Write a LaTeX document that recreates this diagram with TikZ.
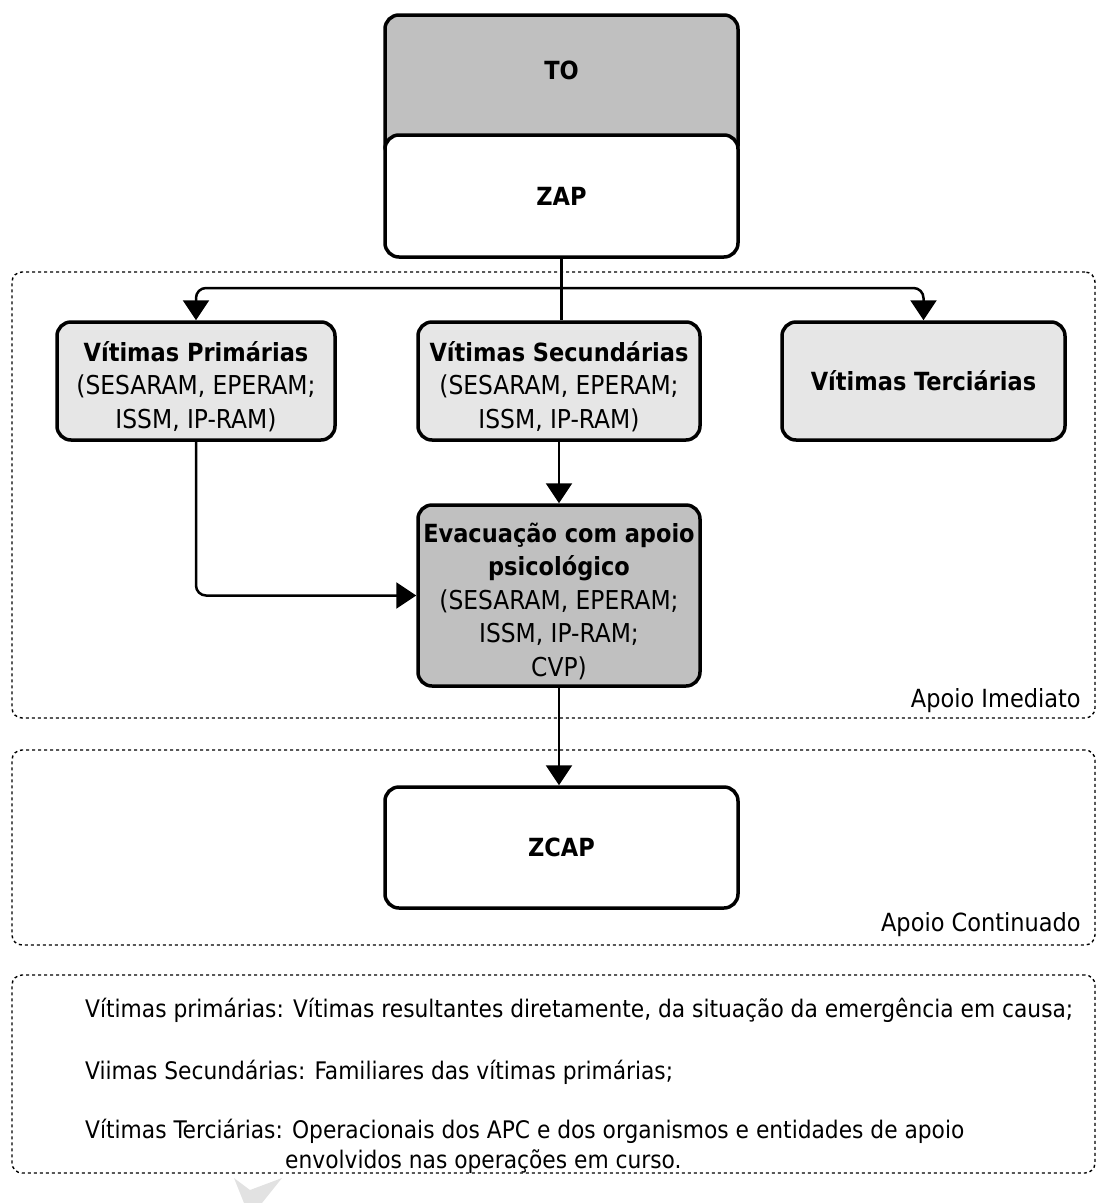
\documentclass[tikz,border=0pt]{standalone}
\usepackage{fontspec}
\setmainfont{DejaVu Sans Condensed}
\usetikzlibrary{arrows.meta}
\definecolor{gdark}{HTML}{C0C0C0}
\definecolor{glight}{HTML}{E6E6E6}
\definecolor{wmark}{HTML}{E2E2E2}
\newcommand{\topstrut}{\rule{0pt}{31pt}}
\tikzset{
  boxbase/.style={draw, line width=3.5pt, rounded corners=14pt, align=center,
    inner sep=0pt, font=\fontsize{26}{33.5}\selectfont},
  bigbox/.style={boxbase, minimum width=353pt},
  midbox/.style={boxbase, minimum width=280pt, minimum height=118pt, fill=glight},
  conn/.style={line width=2.5pt, rounded corners=10pt},
  arr/.style={conn, -{Triangle[width=26pt,length=20pt]}},
  zone/.style={draw, line width=1.4pt, dash pattern=on 3pt off 3pt, rounded corners=10pt,
    minimum width=1083pt, inner sep=0pt},
  zlabel/.style={anchor=east, font=\fontsize{25}{29}\selectfont, inner sep=0pt},
  legend/.style={anchor=west, font=\fontsize{24.2}{28}\selectfont, inner sep=0pt}
}
\begin{document}
\begin{tikzpicture}[x=1pt,y=-1pt]
\useasboundingbox (0,0) rectangle (1097,1203);
% zones
\node[zone, minimum height=446pt] (imm) at (553.5,495) {};
\node[zone, minimum height=195pt] (cont) at (553.5,847.5) {};
\node[zone, minimum height=198pt] (leg) at (553.5,1074) {};
\node[zlabel] (limm) at (1081,701) {Apoio Imediato};
\node[zlabel] (lcont) at (1081,925) {Apoio Continuado};
% top boxes
\node[bigbox, fill=gdark, minimum height=145pt,
  label={[yshift=17.5pt, font=\fontsize{25}{33}\selectfont\bfseries]center:TO}] (to) at (561.5,87.5) {};
\node[bigbox, fill=white, minimum height=122pt, font=\fontsize{25}{33}\selectfont\bfseries] (zap) at (561.5,196) {ZAP};
% middle boxes
\node[midbox, minimum width=278pt] (prim) at (196,381) {\topstrut\textbf{\fontsize{25}{33}\selectfont Vítimas Primárias}\\(SESARAM, EPERAM;\\ISSM, IP-RAM)};
\node[midbox, minimum width=282pt] (sec) at (559,381) {\topstrut\textbf{\fontsize{25}{33}\selectfont Vítimas Secundárias}\\(SESARAM, EPERAM;\\ISSM, IP-RAM)};
\node[midbox, minimum width=283pt, font=\fontsize{25}{33}\selectfont\bfseries] (ter) at (923.5,381) {Vítimas Terciárias};
\node[boxbase, fill=gdark, minimum width=282pt, minimum height=181pt] (evac) at (559,595.5)
  {\topstrut\textbf{\fontsize{25}{33}\selectfont Evacuação com apoio}\\\textbf{\fontsize{25}{33}\selectfont psicológico}\\(SESARAM, EPERAM;\\ISSM, IP-RAM;\\CVP)};
\node[bigbox, fill=white, minimum height=121pt, font=\fontsize{25}{33}\selectfont\bfseries] (zcap) at (561.5,847.5) {ZCAP};
% connectors
\coordinate (br) at (561,288);
\draw[conn] (zap.south) -- (zap.south |- sec.north);
\draw[arr] (br) -| (prim.north);
\draw[arr] (br) -| (ter.north);
\draw[arr] (sec.south) -- (evac.north);
\draw[arr] (prim.south) |- (evac.west);
\draw[arr] (evac.south) -- (evac.south |- zcap.north);
% legend
\node[legend] (l1) at (85,1010) {Vítimas primárias: Vítimas resultantes diretamente, da situação da emergência em causa;};
\node[legend] (l2) at (85,1072) {Viimas Secundárias: Familiares das vítimas primárias;};
\node[legend] (l3) at (85,1131) {Vítimas Terciárias: Operacionais dos APC e dos organismos e entidades de apoio};
\node[legend] (l4) at (285,1162) {envolvidos nas operações em curso.};
% watermark fragment
\fill[wmark] (234,1178) -- (250,1190) -- (282,1178) -- (262,1203) -- (244,1203) -- cycle;
\end{tikzpicture}
\end{document}
